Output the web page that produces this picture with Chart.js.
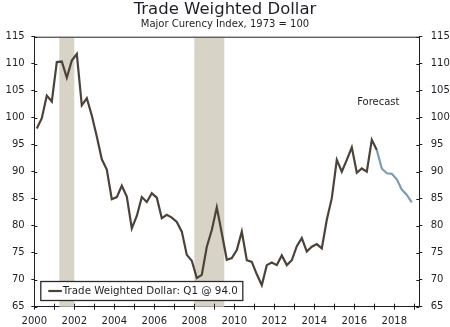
<!DOCTYPE html>
<html>
<head>
<meta charset="utf-8">
<script src="https://cdn.jsdelivr.net/npm/chart.js@4/dist/chart.umd.min.js"></script>
<style>
  html, body { margin: 0; padding: 0; background: #ffffff; }
  #wrap { width: 450px; height: 327px; }
</style>
</head>
<body>
<div id="wrap"><canvas id="chart" width="450" height="327"></canvas></div>
<script>
// Trade-weighted dollar, major currency index (1973 = 100), quarterly from 2000 Q1
const firstYear = 2000;
const dollarActual = [
  98.0, 99.9, 104.1, 103.0, 110.3, 110.4, 107.4, 110.6,   // 2000-2001
  111.8, 102.3, 103.6, 100.4, 96.5, 92.3, 90.4, 84.9,     // 2002-2003
  85.3, 87.4, 85.4, 79.5, 81.8, 85.3, 84.4, 86.0,         // 2004-2005
  85.2, 81.4, 82.0, 81.5, 80.7, 78.9, 74.6, 73.5,         // 2006-2007
  70.3, 70.9, 76.1, 79.2, 83.4, 78.6, 73.7, 74.0,         // 2008-2009
  75.5, 78.9, 73.6, 73.3, 71.0, 69.0, 72.7, 73.2,         // 2010-2011
  72.7, 74.5, 72.7, 73.6, 76.2, 77.7, 75.2, 76.1,         // 2012-2013
  76.6, 75.8, 81.1, 85.1, 92.2, 90.0, 92.2, 94.5,         // 2014-2015
  89.8, 90.6, 90.0, 95.9, 94.0                            // 2016-2017 Q1
];
// Forecast path, starting from the 2017 Q1 reading
const dollarForecast = [94.0, 90.6, 89.7, 89.6, 88.6, 86.7, 85.7, 84.3];
const forecastStartIndex = dollarActual.length - 1;

// Recession periods (fractional years)
const recessionStart = [2001.25, 2008.0];
const recessionEnd   = [2002.0, 2009.5];

const yTicks = { min: 65, max: 115, step: 5 };
const xRange = { min: 2000, max: 2019.25 };

const titleText = 'Trade Weighted Dollar';
const subtitleText = 'Major Curency Index, 1973 = 100';
const legendText = 'Trade Weighted Dollar: Q1 @ 94.0';
const forecastText = 'Forecast';

// quarter index -> mid-quarter position on the year axis
const quarterX = i => firstYear + (i + 0.5) / 4;

const actualPoints = dollarActual.map((v, i) => ({ x: quarterX(i), y: v }));
const forecastPoints = dollarForecast.map((v, i) => ({ x: quarterX(forecastStartIndex + i), y: v }));

const FONT = 'DejaVu Sans';
const INK = '#1e1e24';
const ACTUAL_COLOR = '#4b4239';
const FORECAST_COLOR = '#7e9cb4';
const RECESSION_COLOR = '#d7d3c7';

const recessionShading = {
  id: 'recessionShading',
  beforeDatasetsDraw(chart) {
    const { ctx, chartArea, scales } = chart;
    ctx.save();
    ctx.fillStyle = RECESSION_COLOR;
    recessionStart.forEach((s, k) => {
      const x0 = scales.x.getPixelForValue(s);
      const x1 = scales.x.getPixelForValue(recessionEnd[k]);
      ctx.fillRect(x0, chartArea.top + 1, x1 - x0, chartArea.bottom - chartArea.top - 1);
    });
    ctx.restore();
  }
};

// frame top line, inward half of the crossing tick marks, legend box and note
const frameAndNotes = {
  id: 'frameAndNotes',
  afterDraw(chart) {
    const { ctx, chartArea, scales } = chart;
    const inner = 3;
    ctx.save();
    ctx.strokeStyle = INK;
    ctx.lineWidth = 1;
    ctx.beginPath();
    ctx.moveTo(chartArea.left, chartArea.top + 0.5);
    ctx.lineTo(chartArea.right, chartArea.top + 0.5);
    scales.x.ticks.forEach(t => {
      const px = Math.round(scales.x.getPixelForValue(t.value)) + 0.5;
      ctx.moveTo(px, chartArea.bottom);
      ctx.lineTo(px, chartArea.bottom - inner);
    });
    scales.y.ticks.forEach(t => {
      const py = Math.round(scales.y.getPixelForValue(t.value)) + 0.5;
      ctx.moveTo(chartArea.left, py);
      ctx.lineTo(chartArea.left + inner, py);
      ctx.moveTo(chartArea.right, py);
      ctx.lineTo(chartArea.right - inner, py);
    });
    ctx.stroke();

    // legend box
    const bx = chartArea.left + 6.5, by = 281.5, bw = 202, bh = 19;
    ctx.fillStyle = '#ffffff';
    ctx.fillRect(bx, by, bw, bh);
    ctx.lineWidth = 1.3;
    ctx.strokeStyle = '#2a2a2a';
    ctx.strokeRect(bx, by, bw, bh);
    ctx.strokeStyle = ACTUAL_COLOR;
    ctx.lineWidth = 2.2;
    ctx.beginPath();
    ctx.moveTo(bx + 7.5, by + bh / 2);
    ctx.lineTo(bx + 21, by + bh / 2);
    ctx.stroke();
    ctx.fillStyle = INK;
    ctx.font = '10.3px "' + FONT + '"';
    ctx.textAlign = 'left';
    ctx.textBaseline = 'middle';
    ctx.fillText(legendText, bx + 22, by + bh / 2 + 0.5);

    // forecast note
    ctx.font = '10px "' + FONT + '"';
    ctx.textAlign = 'center';
    ctx.fillText(forecastText, scales.x.getPixelForValue(2017.2), scales.y.getPixelForValue(102.85));
    ctx.restore();
  }
};

const tickFont = { family: FONT, size: 10 };

new Chart(document.getElementById('chart'), {
  type: 'line',
  data: {
    datasets: [
      {
        label: 'Trade Weighted Dollar',
        data: actualPoints,
        borderColor: ACTUAL_COLOR,
        borderWidth: 2.2,
        pointRadius: 0,
        tension: 0,
        yAxisID: 'y'
      },
      {
        label: 'Forecast',
        data: forecastPoints,
        borderColor: FORECAST_COLOR,
        borderWidth: 2.2,
        pointRadius: 0,
        tension: 0,
        yAxisID: 'y'
      }
    ]
  },
  options: {
    responsive: false,
    animation: false,
    devicePixelRatio: 1,
    layout: { padding: 0 },
    plugins: {
      legend: { display: false },
      tooltip: { enabled: false },
      title: {
        display: true,
        text: titleText,
        color: INK,
        font: { family: FONT, size: 16.5, weight: 'normal', lineHeight: 1.0 },
        padding: { top: 1.8, bottom: 0 }
      },
      subtitle: {
        display: true,
        text: subtitleText,
        color: INK,
        font: { family: FONT, size: 10, weight: 'normal', lineHeight: 1.2 },
        padding: { top: 0, bottom: 6.4 }
      }
    },
    scales: {
      x: {
        type: 'linear',
        min: xRange.min,
        max: xRange.max,
        ticks: {
          stepSize: 1,
          includeBounds: false,
          autoSkip: false,
          maxRotation: 0,
          color: INK,
          font: tickFont,
          padding: 6,
          callback: v => (v % 2 === 0 ? String(v) : '')
        },
        grid: { drawOnChartArea: false, tickLength: 3, color: INK },
        border: { color: INK, width: 1 },
        afterFit: s => { s.height = 20.3; }
      },
      y: {
        position: 'left',
        min: yTicks.min,
        max: yTicks.max,
        ticks: { stepSize: yTicks.step, color: INK, font: tickFont, padding: 6.6 },
        grid: { drawOnChartArea: false, tickLength: 3, color: INK },
        border: { color: INK, width: 1 },
        afterFit: s => { s.width = 34.3; }
      },
      y2: {
        position: 'right',
        min: yTicks.min,
        max: yTicks.max,
        ticks: { stepSize: yTicks.step, color: INK, font: tickFont, padding: 8.4 },
        grid: { drawOnChartArea: false, tickLength: 3, color: INK },
        border: { color: INK, width: 1 },
        afterFit: s => { s.width = 30.7; }
      }
    }
  },
  plugins: [recessionShading, frameAndNotes]
});
</script>
</body>
</html>
